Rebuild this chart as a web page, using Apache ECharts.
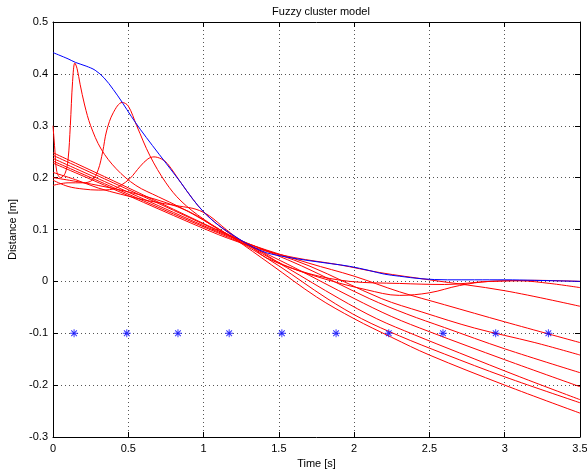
<!DOCTYPE html>
<html>
<head>
<meta charset="utf-8">
<script src="https://cdn.jsdelivr.net/npm/echarts@6/dist/echarts.min.js"></script>
<style>html,body{margin:0;padding:0;background:#fff}#c{width:587px;height:470px}</style>
</head>
<body>
<div id="c"></div>
<script>
// ---- data ----
var xTicks = [0, 0.5, 1, 1.5, 2, 2.5, 3, 3.5];
var yTicks = [-0.3, -0.2, -0.1, 0, 0.1, 0.2, 0.3, 0.4, 0.5];

var measured = [[0,0.441],[0.1,0.429],[0.15,0.422],[0.22,0.415],[0.28,0.407],[0.34,0.392],[0.4,0.37],[0.46,0.345],[0.52,0.318],[0.58,0.293],[0.66,0.262],[0.75,0.228],[0.85,0.19],[0.93,0.158],[1.0,0.134],[1.1,0.108],[1.24,0.081],[1.33,0.066],[1.42,0.055],[1.55,0.047],[1.7,0.04],[1.85,0.034],[1.97,0.029],[2.1,0.021],[2.2,0.014],[2.3,0.01],[2.45,0.005],[2.62,0.003],[2.8,0.003],[3.0,0.003],[3.2,0.002],[3.35,0.001],[3.5,0.0]];

var model1 = [[0,0.30],[0.012,0.255],[0.025,0.212],[0.05,0.2],[0.08,0.208],[0.1,0.235],[0.115,0.3],[0.13,0.385],[0.145,0.421],[0.16,0.41],[0.18,0.38],[0.21,0.34],[0.25,0.30],[0.32,0.255],[0.42,0.217],[0.55,0.185],[0.7,0.163],[0.85,0.142],[1.0,0.118],[1.2,0.083],[1.45,0.032],[1.75,-0.03],[2.0,-0.072],[2.25,-0.108],[2.5,-0.142],[3.0,-0.2],[3.5,-0.254]];
var model2 = [[0,0.185],[0.1,0.19],[0.2,0.19],[0.26,0.195],[0.3,0.215],[0.33,0.25],[0.356,0.29],[0.4,0.325],[0.46,0.345],[0.5,0.338],[0.556,0.30],[0.644,0.242],[0.75,0.19],[0.85,0.155],[1.0,0.12],[1.22,0.08],[1.5,0.03],[1.82,-0.033],[2.05,-0.072],[2.3,-0.105],[2.6,-0.14],[3.0,-0.184],[3.5,-0.234]];
var model3 = [[0,0.195],[0.1,0.183],[0.2,0.178],[0.3,0.176],[0.4,0.178],[0.45,0.185],[0.51,0.198],[0.58,0.222],[0.63,0.236],[0.67,0.24],[0.72,0.236],[0.76,0.227],[0.85,0.19],[0.93,0.158],[1.0,0.134],[1.1,0.108],[1.24,0.079],[1.55,0.027],[1.9,-0.033],[2.15,-0.072],[2.4,-0.103],[2.7,-0.138],[3.1,-0.184],[3.5,-0.228]];
var model4 = [[0,0.21],[0.15,0.196],[0.3,0.18],[0.45,0.168],[0.64,0.155],[0.84,0.145],[0.95,0.139],[1.04,0.126],[1.15,0.1],[1.26,0.077],[1.6,0.027],[2.0,-0.033],[2.25,-0.068],[2.5,-0.097],[3.0,-0.151],[3.5,-0.203]];
var model5 = [[0,0.248],[0.4,0.194],[0.8,0.139],[1.1,0.098],[1.28,0.075],[1.65,0.03],[2.1,-0.033],[2.35,-0.063],[2.6,-0.089],[3.0,-0.13],[3.5,-0.176]];
var model6 = [[0,0.243],[0.4,0.19],[0.8,0.137],[1.1,0.097],[1.3,0.072],[1.7,0.03],[2.18,-0.033],[2.45,-0.059],[2.8,-0.09],[3.2,-0.118],[3.5,-0.142]];
var model7 = [[0,0.237],[0.4,0.185],[0.8,0.133],[1.1,0.095],[1.32,0.07],[1.7,0.035],[2.0,0.01],[2.3,-0.02],[2.6,-0.045],[3.0,-0.078],[3.5,-0.118]];
var model8 = [[0,0.232],[0.4,0.181],[0.8,0.13],[1.1,0.093],[1.35,0.064],[1.6,0.046],[1.9,0.032],[2.17,0.017],[2.5,0.003],[3.0,-0.018],[3.5,-0.048]];
var model9 = [[0,0.228],[0.4,0.178],[0.8,0.127],[1.1,0.09],[1.35,0.062],[1.53,0.032],[1.8,0.005],[2.08,-0.016],[2.3,-0.027],[2.5,-0.022],[2.7,-0.008],[2.9,0.0],[3.1,0.001],[3.3,-0.004],[3.5,-0.012]];
var model10 = [[0,0.2],[0.3,0.185],[0.6,0.165],[0.9,0.135],[1.1,0.1],[1.3,0.07],[1.42,0.045],[1.7,0.015],[1.97,0.0],[2.3,-0.004],[2.6,-0.006],[2.9,0.0],[3.2,0.002],[3.5,0.0]];

var centersT = [0.14, 0.49, 0.83, 1.17, 1.52, 1.88, 2.23, 2.59, 2.94, 3.29];
var centersY = [-0.1, -0.1, -0.1, -0.1, -0.1, -0.1, -0.1, -0.1, -0.1, -0.1];

var models = [model1, model2, model3, model4, model5, model6, model7, model8, model9, model10];

// ---- chart ----
var FONT = 'Liberation Sans, Arial, Helvetica, sans-serif';
var star = 'path://M-5,-0.6L5,-0.6L5,0.6L-5,0.6Z M-0.6,-5L0.6,-5L0.6,5L-0.6,5Z ' +
  'M-3.96,-3.112L-3.112,-3.96L3.96,3.112L3.112,3.96Z ' +
  'M3.112,-3.96L3.96,-3.112L-3.112,3.96L-3.96,3.112Z';

var series = [];
models.forEach(function (m, i) {
  series.push({
    name: 'model' + (i + 1), type: 'line', data: m, symbol: 'none',
    smooth: 0.35, lineStyle: { color: '#ff0000', width: 1 }, z: 2
  });
});
series.push({
  name: 'measured', type: 'line', data: measured, symbol: 'none',
  smooth: 0.35, lineStyle: { color: '#0000ff', width: 1 }, z: 3
});
series.push({
  name: 'centers', type: 'scatter',
  data: centersT.map(function (t, i) { return [t, centersY[i]]; }),
  symbol: star, symbolSize: 8, itemStyle: { color: '#0000ff' }, z: 4
});

var gridLine = { show: true, lineStyle: { color: '#555', type: [1, 3], width: 1 } };
var axLine = { show: true, onZero: false, lineStyle: { color: '#000', width: 1 } };
var tick = { inside: true, length: 5, lineStyle: { color: '#000' } };

var option = {
  animation: false,
  backgroundColor: '#fff',
  title: {
    text: 'Fuzzy cluster model', left: 316, top: 1, textAlign: 'center',
    textStyle: { fontFamily: FONT, fontSize: 11, fontWeight: 'normal', color: '#000' }
  },
  grid: { left: 53, right: 7, top: 22, bottom: 33, containLabel: false, outerBoundsMode: 'none' },
  xAxis: [{
    type: 'value', min: 0, max: 3.5, interval: 0.5,
    name: 'Time [s]', nameLocation: 'middle', nameGap: 18,
    nameTextStyle: { fontFamily: FONT, fontSize: 11, color: '#000' },
    axisLine: axLine, axisTick: tick,
    axisLabel: { fontFamily: FONT, fontSize: 11, color: '#000', margin: 6,
      formatter: function (v) { return xTicks.indexOf(v) >= 0 ? String(v) : ''; } },
    splitLine: gridLine
  }, {
    type: 'value', min: 0, max: 3.5, interval: 0.5, position: 'top',
    axisLine: axLine, axisTick: tick,
    axisLabel: { show: false }, splitLine: { show: false }
  }],
  yAxis: [{
    type: 'value', min: -0.3, max: 0.5, interval: 0.1,
    name: 'Distance [m]', nameLocation: 'middle', nameGap: 33,
    nameTextStyle: { fontFamily: FONT, fontSize: 11, color: '#000' },
    axisLine: axLine, axisTick: tick,
    axisLabel: { fontFamily: FONT, fontSize: 11, color: '#000', margin: 5,
      formatter: function (v) {
        var r = Math.round(v * 10) / 10;
        return yTicks.indexOf(r) >= 0 ? String(r) : '';
      } },
    splitLine: gridLine
  }, {
    type: 'value', min: -0.3, max: 0.5, interval: 0.1, position: 'right',
    axisLine: axLine, axisTick: tick,
    axisLabel: { show: false }, splitLine: { show: false }
  }],
  series: series
};

var chart = echarts.init(document.getElementById('c'), null, { renderer: 'canvas' });
chart.setOption(option);
</script>
</body>
</html>
